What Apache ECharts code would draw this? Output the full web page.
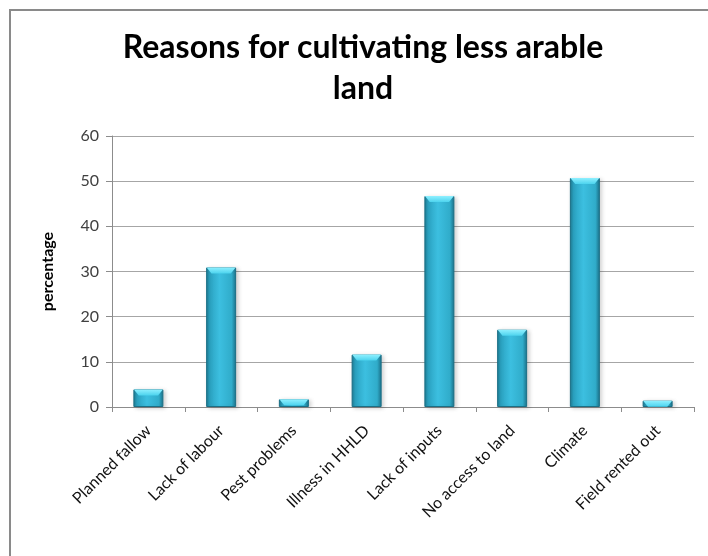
<!DOCTYPE html>
<html>
<head>
<meta charset="utf-8">
<script src="https://cdn.jsdelivr.net/npm/echarts@6/dist/echarts.min.js"></script>
<style>
  html, body { margin: 0; padding: 0; background: #ffffff; }
  #chart { width: 708px; height: 556px; }
</style>
</head>
<body>
<div id="chart"></div>
<script>
// Reasons given by households for cultivating less arable land (% of respondents)
const categories = [
  'Planned fallow', 'Lack of labour', 'Pest problems', 'Illness in HHLD',
  'Lack of inputs', 'No access to land', 'Climate', 'Field rented out'
];
const percentages = [3.9, 30.9, 1.7, 11.6, 46.7, 17.1, 50.7, 1.4];
const yTicks = [0, 10, 20, 30, 40, 50, 60];

const chartTitle = 'Reasons for cultivating less arable\nland';
const yAxisName = 'percentage';

const FONT = 'Lato, "Open Sans", sans-serif';

const chart = echarts.init(document.getElementById('chart'), null, { renderer: 'canvas' });

// Bar face: darker edges, bright centre, for a bevelled look
const barFace = new echarts.graphic.LinearGradient(0, 0, 1, 0, [
  { offset: 0.00, color: '#1d7990' },
  { offset: 0.12, color: '#2ba3c2' },
  { offset: 0.45, color: '#3cbfe0' },
  { offset: 0.85, color: '#30acca' },
  { offset: 1.00, color: '#1b7189' }
]);

const option = {
  backgroundColor: '#ffffff',
  animation: false,
  title: {
    text: chartTitle,
    left: 358,
    top: 22,
    textAlign: 'center',
    textStyle: {
      fontFamily: FONT,
      fontWeight: 'bold',
      fontSize: 32,
      lineHeight: 41,
      color: '#000000'
    }
  },
  graphic: [{
    type: 'rect',
    shape: { x: 10, y: 10, width: 740, height: 600 },
    style: { fill: 'none', stroke: '#8a8a8a', lineWidth: 2 },
    silent: true
  }],
  grid: { left: 112, right: 14, top: 136, bottom: 149 },
  xAxis: {
    type: 'category',
    data: categories,
    axisLine: { lineStyle: { color: '#8c8c8c', width: 1 } },
    axisTick: { show: true, length: 5, alignWithLabel: false, lineStyle: { color: '#8c8c8c' } },
    axisLabel: {
      rotate: 45,
      interval: 0,
      margin: 21,
      fontFamily: FONT,
      fontSize: 16,
      color: '#111111'
    }
  },
  yAxis: {
    type: 'value',
    min: yTicks[0],
    max: yTicks[yTicks.length - 1],
    interval: yTicks[1] - yTicks[0],
    name: yAxisName,
    nameLocation: 'middle',
    nameGap: 56,
    nameTextStyle: {
      fontFamily: FONT,
      fontWeight: 'bold',
      fontSize: 16,
      color: '#000000'
    },
    axisLine: { show: true, lineStyle: { color: '#8c8c8c', width: 1 } },
    axisTick: { show: true, length: 6, lineStyle: { color: '#8c8c8c' } },
    axisLabel: {
      margin: 13,
      fontFamily: FONT,
      fontSize: 16,
      color: '#404040'
    },
    splitLine: { lineStyle: { color: '#a6a6a6', width: 1 } }
  },
  series: [
    {
      type: 'bar',
      data: percentages,
      barWidth: 30,
      itemStyle: {
        color: barFace,
        borderColor: '#1a6f86',
        borderWidth: 1,
        shadowColor: 'rgba(0,0,0,0.18)',
        shadowBlur: 4,
        shadowOffsetX: 2,
        shadowOffsetY: 1
      },
      z: 2
    },
    {
      // light bevel cap on top of each bar
      type: 'pictorialBar',
      data: percentages,
      symbol: 'path://M0,0 L30,0 L25,6 L5,6 Z',
      symbolSize: [29, 6],
      symbolPosition: 'end',
      symbolOffset: [0, 0],
      itemStyle: {
        color: new echarts.graphic.LinearGradient(0, 0, 0, 1, [
          { offset: 0, color: '#8ff0ff' },
          { offset: 1, color: '#4cd3ee' }
        ])
      },
      silent: true,
      z: 3
    }
  ]
};

chart.setOption(option);
</script>
</body>
</html>
